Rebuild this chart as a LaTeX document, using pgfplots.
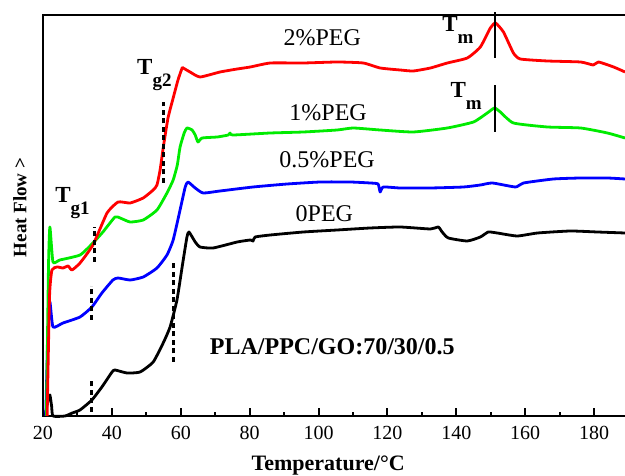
\documentclass[border=0pt]{standalone}
\usepackage{fontspec}
\setmainfont{Liberation Serif}
\usepackage{pgfplots}
\pgfplotsset{compat=1.18}

\definecolor{cRed}{RGB}{255,0,0}
\definecolor{cGreen}{RGB}{0,235,0}
\definecolor{cBlue}{RGB}{0,0,255}

\newcommand{\lbl}{\fontsize{24}{26}\selectfont}
\newcommand{\Tsub}[1]{\textbf{\fontsize{23}{25}\selectfont T\raisebox{-12pt}{\fontsize{19}{20}\selectfont #1}}}

\begin{document}
\begin{tikzpicture}
\begin{axis}[
  at={(0pt,0pt)}, anchor=south west,
  scale only axis, width=582pt, height=401pt,
  xmin=20, xmax=189, ymin=0, ymax=401,
  clip=false,
  axis line style={draw=none},
  xtick={20,40,...,180}, minor x tick num=1,
  ytick=\empty,
  xtick pos=bottom, tick align=inside,
  major tick length=8pt, minor tick length=4pt,
  every tick/.style={black, line width=2pt},
  /pgf/number format/assume math mode=true,
  xticklabel style={font=\fontsize{20}{22}\selectfont, yshift=-7pt},
  xlabel={\textbf{Temperature/°C}},
  xlabel style={font=\fontsize{22}{24}\selectfont, at={(rel axis cs:0.49,0)}, anchor=base, yshift=-55pt},
  ylabel={\textbf{Heat Flow >}},
  ylabel style={font=\fontsize{19}{21}\selectfont, at={(rel axis cs:0,0.52)}, anchor=center, yshift=23pt},
  every axis plot/.append style={line width=2.8pt, line join=round},
]
% axis frame: left, bottom, top
\draw[line width=2.8pt, line cap=rect] (rel axis cs:1,1) -- (rel axis cs:0,1) -- (rel axis cs:0,0) -- (rel axis cs:1,0);

% 0PEG
\addplot[black, smooth, tension=0.3] coordinates {
(20.6,0)(21.4,15)(22.0,21)(22.5,10)(22.9,0)(26.4,0)(28.5,3)(30.75,6)(34.2,16)(37.1,29)(40.05,44)(40.9,46)
(44.4,43)(48.2,44)(52.0,54)(54.9,73)(56.9,89)(58.9,116)(60.4,149)(61.8,179)(62.4,184)
(64.2,174)(65.6,169)(69.4,168)(76.4,174)(80.2,176)(81.0,175)(81.6,179)(86.0,181)(95.6,184)
(105.4,186)(115.0,188)(123.7,189)(132.5,187)(134.8,189)(135.9,184)(137.7,178)(143.2,175)
(147.0,179)(149.3,184)(151.9,183)(157.7,180)(163.6,183)(173.1,185)(181.0,184)(189,183)};

% 0.5%PEG
\addplot[cBlue, smooth, tension=0.3] coordinates {
(20.8,0)(21.4,80)(22.0,114)(22.9,89)(25.8,93)(30.75,99)(34.2,109)(37.1,123)(40.3,136)(41.8,138)
(45.3,136)(49.1,139)(53.1,148)(56.0,161)(57.8,176)(59.8,206)(61.3,229)(62.1,234)(64.2,228)
(66.5,223)(71.4,225)(81.0,229)(90.9,232)(100.5,234)(109.2,234)(115.0,233)(117.3,232)(117.9,224)
(118.8,229)(123.7,228)(132.5,228)(142.1,229)(147.0,231)(150.5,233)(157.2,229)(159.5,233)
(168.2,237)(176.1,238)(183.9,238)(189,237)};

% 1%PEG
\addplot[cGreen, smooth, tension=0.3] coordinates {
(21.0,0)(21.6,150)(22.0,189)(22.9,154)(24.9,156)(30.75,161)(34.5,173)(37.4,184)(40.9,199)(42.4,198)
(45.3,194)(49.1,196)(53.1,206)(56.0,223)(57.8,236)(59.0,251)(59.8,269)(61.0,283)(61.8,288)
(63.3,286)(64.2,281)(65.0,274)(66.2,278)(70.6,279)(73.8,281)(74.3,283)(75.2,281)(86.0,283)
(95.6,284)(105.4,286)(110.1,288)(117.9,286)(127.5,284)(137.4,288)(145.0,294)(149.0,303)
(151.1,308)(152.8,304)(156.6,293)(166.5,289)(176.1,288)(183.9,283)(189,278)};

% 2%PEG
\addplot[cRed, smooth, tension=0.3] coordinates {
(21.2,0)(21.9,120)(22.6,146)(24.1,149)(25.8,148)(27.3,150)(28.4,146)(30.75,153)(34.5,171)
(38.6,203)(41.8,214)(45.3,213)(49.1,218)(52.0,226)(53.1,231)(54.0,246)(54.9,268)(56.3,298)
(57.8,318)(59.2,336)(60.4,348)(60.7,348)(62.7,344)(65.6,339)(71.4,344)(76.4,347)(80.2,349)
(86.0,353)(95.6,353)(105.4,354)(113.0,353)(117.9,348)(123.7,346)(127.5,345)(132.5,348)
(137.4,353)(143.2,358)(147.0,369)(149.9,388)(151.4,393)(153.7,384)(156.6,363)(158.6,357)
(166.5,355)(176.1,354)(179.8,351)(181.3,354)(185.7,349)(189,344)};

% transition markers
\addplot[black, line width=3pt, dash pattern=on 5pt off 3.5pt] coordinates {(34,4)(34,36)};
\addplot[black, line width=3pt, dash pattern=on 5pt off 3.5pt] coordinates {(34,96)(34,130)};
\addplot[black, line width=3pt, dash pattern=on 5pt off 3.5pt] coordinates {(35,154)(35,189)};
\addplot[black, line width=3pt, dash pattern=on 5pt off 3.5pt] coordinates {(57.8,54)(57.8,153)};
\addplot[black, line width=3pt, dash pattern=on 5pt off 3.5pt] coordinates {(54.9,233)(54.9,314)};
\addplot[black, line width=2.6pt] coordinates {(151.3,358)(151.3,404)};
\addplot[black, line width=2.6pt] coordinates {(151.3,284)(151.3,331)};

% labels
\node[font=\lbl] at (axis cs:101.1,378) {2\%PEG};
\node[font=\lbl] at (axis cs:102.8,303) {1\%PEG};
\node[font=\lbl] at (axis cs:102.5,256) {0.5\%PEG};
\node[font=\lbl] at (axis cs:101.7,202) {0PEG};
\node[font=\lbl\bfseries] at (axis cs:104.0,69) {PLA/PPC/GO:70/30/0.5};
\node[anchor=base west, inner sep=0pt] at (axis cs:135.9,384) {\Tsub{m}};
\node[anchor=base west, inner sep=0pt] at (axis cs:138.3,318) {\Tsub{m}};
\node[anchor=base west, inner sep=0pt] at (axis cs:47.3,341) {\Tsub{g2}};
\node[anchor=base west, inner sep=0pt] at (axis cs:23.5,213) {\Tsub{g1}};
\end{axis}
\pgfresetboundingbox
\path[use as bounding box] (-43pt,-60pt) rectangle (582pt,416pt);
\end{tikzpicture}
\end{document}
